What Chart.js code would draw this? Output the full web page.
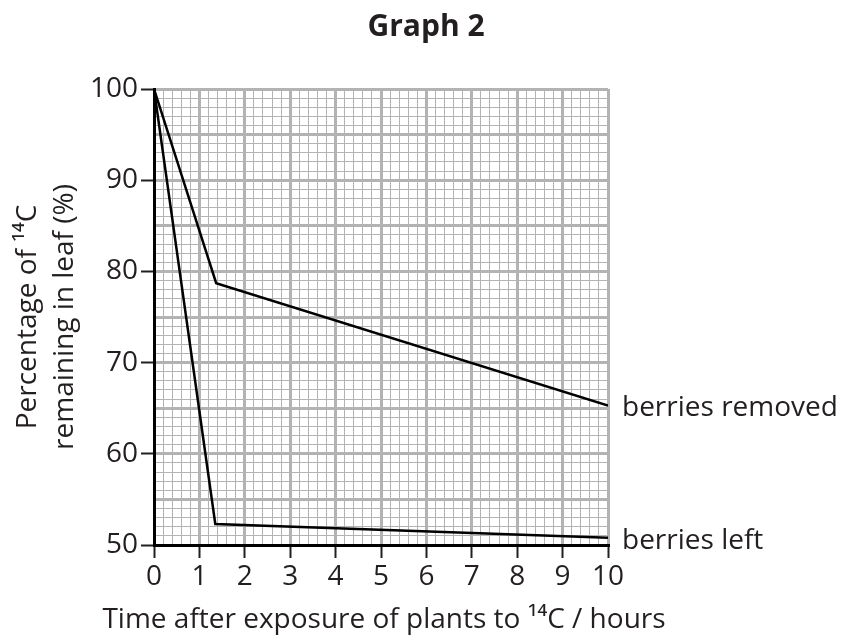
<!DOCTYPE html>
<html>
<head>
<meta charset="utf-8">
<script src="https://cdn.jsdelivr.net/npm/chart.js@4/dist/chart.umd.min.js"></script>
<style>
  html, body { margin: 0; padding: 0; background: #ffffff; }
  #wrap { width: 842px; height: 644px; }
</style>
</head>
<body>
<div id="wrap"><canvas id="c" width="842" height="644"></canvas></div>
<script>
// ---- data ----
const removedTime = [0, 1.37, 10];
const removedPct  = [100, 78.7, 65.3];
const leftTime    = [0, 1.35, 10];
const leftPct     = [100, 52.3, 50.8];
const seriesNames = ['berries removed', 'berries left'];
const yLabelValues = [50, 60, 70, 80, 90, 100];
const xLabelValues = [0, 1, 2, 3, 4, 5, 6, 7, 8, 9, 10];
const chartTitle = 'Graph 2';
const yTitle = ['Percentage of \u00B9\u2074C', 'remaining in leaf (%)'];
const xTitle = 'Time after exposure of plants to \u00B9\u2074C / hours';

const TXT = '#231f20';
const FONT = "'Open Sans', 'DejaVu Sans', sans-serif";
const GRID = '#b3b3b3';

function isNear(v, arr) { return arr.some(a => Math.abs(a - v) < 1e-6); }

const textExtras = {
  id: 'textExtras',
  afterDatasetsDraw(chart) {
    const ctx = chart.ctx;
    ctx.save();
    ctx.font = '28px ' + FONT;
    ctx.fillStyle = TXT;
    ctx.textAlign = 'left';
    ctx.textBaseline = 'alphabetic';
    chart.data.datasets.forEach((ds, i) => {
      const meta = chart.getDatasetMeta(i);
      const last = meta.data[meta.data.length - 1];
      ctx.fillText(ds.label, last.x + 14, last.y + 11);
    });
    // x-axis title, drawn without width compression
    const xs = chart.scales.x;
    ctx.textAlign = 'center';
    ctx.fillText(xTitle, (xs.left + xs.right) / 2 + 3, xs.bottom - 16);
    ctx.restore();
  }
};

new Chart(document.getElementById('c'), {
  type: 'line',
  data: {
    datasets: [
      {
        label: seriesNames[0],
        data: removedTime.map((t, i) => ({ x: t, y: removedPct[i] })),
        borderColor: '#000000', borderWidth: 2.5, pointRadius: 0, tension: 0, fill: false
      },
      {
        label: seriesNames[1],
        data: leftTime.map((t, i) => ({ x: t, y: leftPct[i] })),
        borderColor: '#000000', borderWidth: 2.5, pointRadius: 0, tension: 0, fill: false
      }
    ]
  },
  options: {
    responsive: false,
    animation: false,
    devicePixelRatio: 1,
    layout: { padding: { left: 10, right: 0, top: 0, bottom: 0 } },
    plugins: {
      legend: { display: false },
      tooltip: { enabled: false },
      title: {
        display: true,
        text: chartTitle,
        color: TXT,
        font: { family: FONT, size: 30, weight: 'bold', lineHeight: 1.2 },
        padding: { top: 9, bottom: 44 }
      }
    },
    scales: {
      x: {
        type: 'linear',
        min: 0, max: 10,
        afterFit(scale) { scale.height = 99; },
        ticks: {
          stepSize: 0.2,
          autoSkip: false,
          maxRotation: 0, minRotation: 0,
          padding: 2,
          color: TXT,
          font: { family: FONT, size: 28 },
          callback: (v) => isNear(v, xLabelValues) ? String(Math.round(v)) : ''
        },
        grid: {
          color: (ctx) => GRID,
          lineWidth: (ctx) => (ctx.tick && isNear(ctx.tick.value, xLabelValues)) ? 3 : 1,
          tickLength: 13,
          tickWidth: 2,
          tickColor: (ctx) => (ctx.tick && isNear(ctx.tick.value, xLabelValues)) ? '#231f20' : 'rgba(0,0,0,0)'
        },
        border: { display: true, color: '#000000', width: 3 },
        title: { display: false }
      },
      y: {
        type: 'linear',
        min: 50, max: 100,
        afterFit(scale) { scale.width = 144; },
        ticks: {
          stepSize: 1,
          autoSkip: false,
          padding: 3,
          color: TXT,
          font: { family: FONT, size: 28 },
          callback: (v) => isNear(v, yLabelValues) ? String(Math.round(v)) : ''
        },
        grid: {
          color: (ctx) => GRID,
          lineWidth: (ctx) => (ctx.tick && Math.round(ctx.tick.value) % 5 === 0) ? 3 : 1,
          tickLength: 13,
          tickWidth: 2,
          tickColor: (ctx) => (ctx.tick && isNear(ctx.tick.value, yLabelValues)) ? '#231f20' : 'rgba(0,0,0,0)'
        },
        border: { display: true, color: '#000000', width: 3 },
        title: {
          display: true,
          text: yTitle,
          color: TXT,
          font: { family: FONT, size: 28, lineHeight: 1.32 },
          padding: { top: 0, bottom: 0 }
        }
      },
      yRight: {
        type: 'linear',
        position: 'right',
        display: true,
        afterFit(scale) { scale.width = 234; },
        ticks: { display: false },
        grid: { display: false, drawOnChartArea: false },
        border: { display: false }
      }
    }
  },
  plugins: [textExtras]
});
</script>
</body>
</html>
